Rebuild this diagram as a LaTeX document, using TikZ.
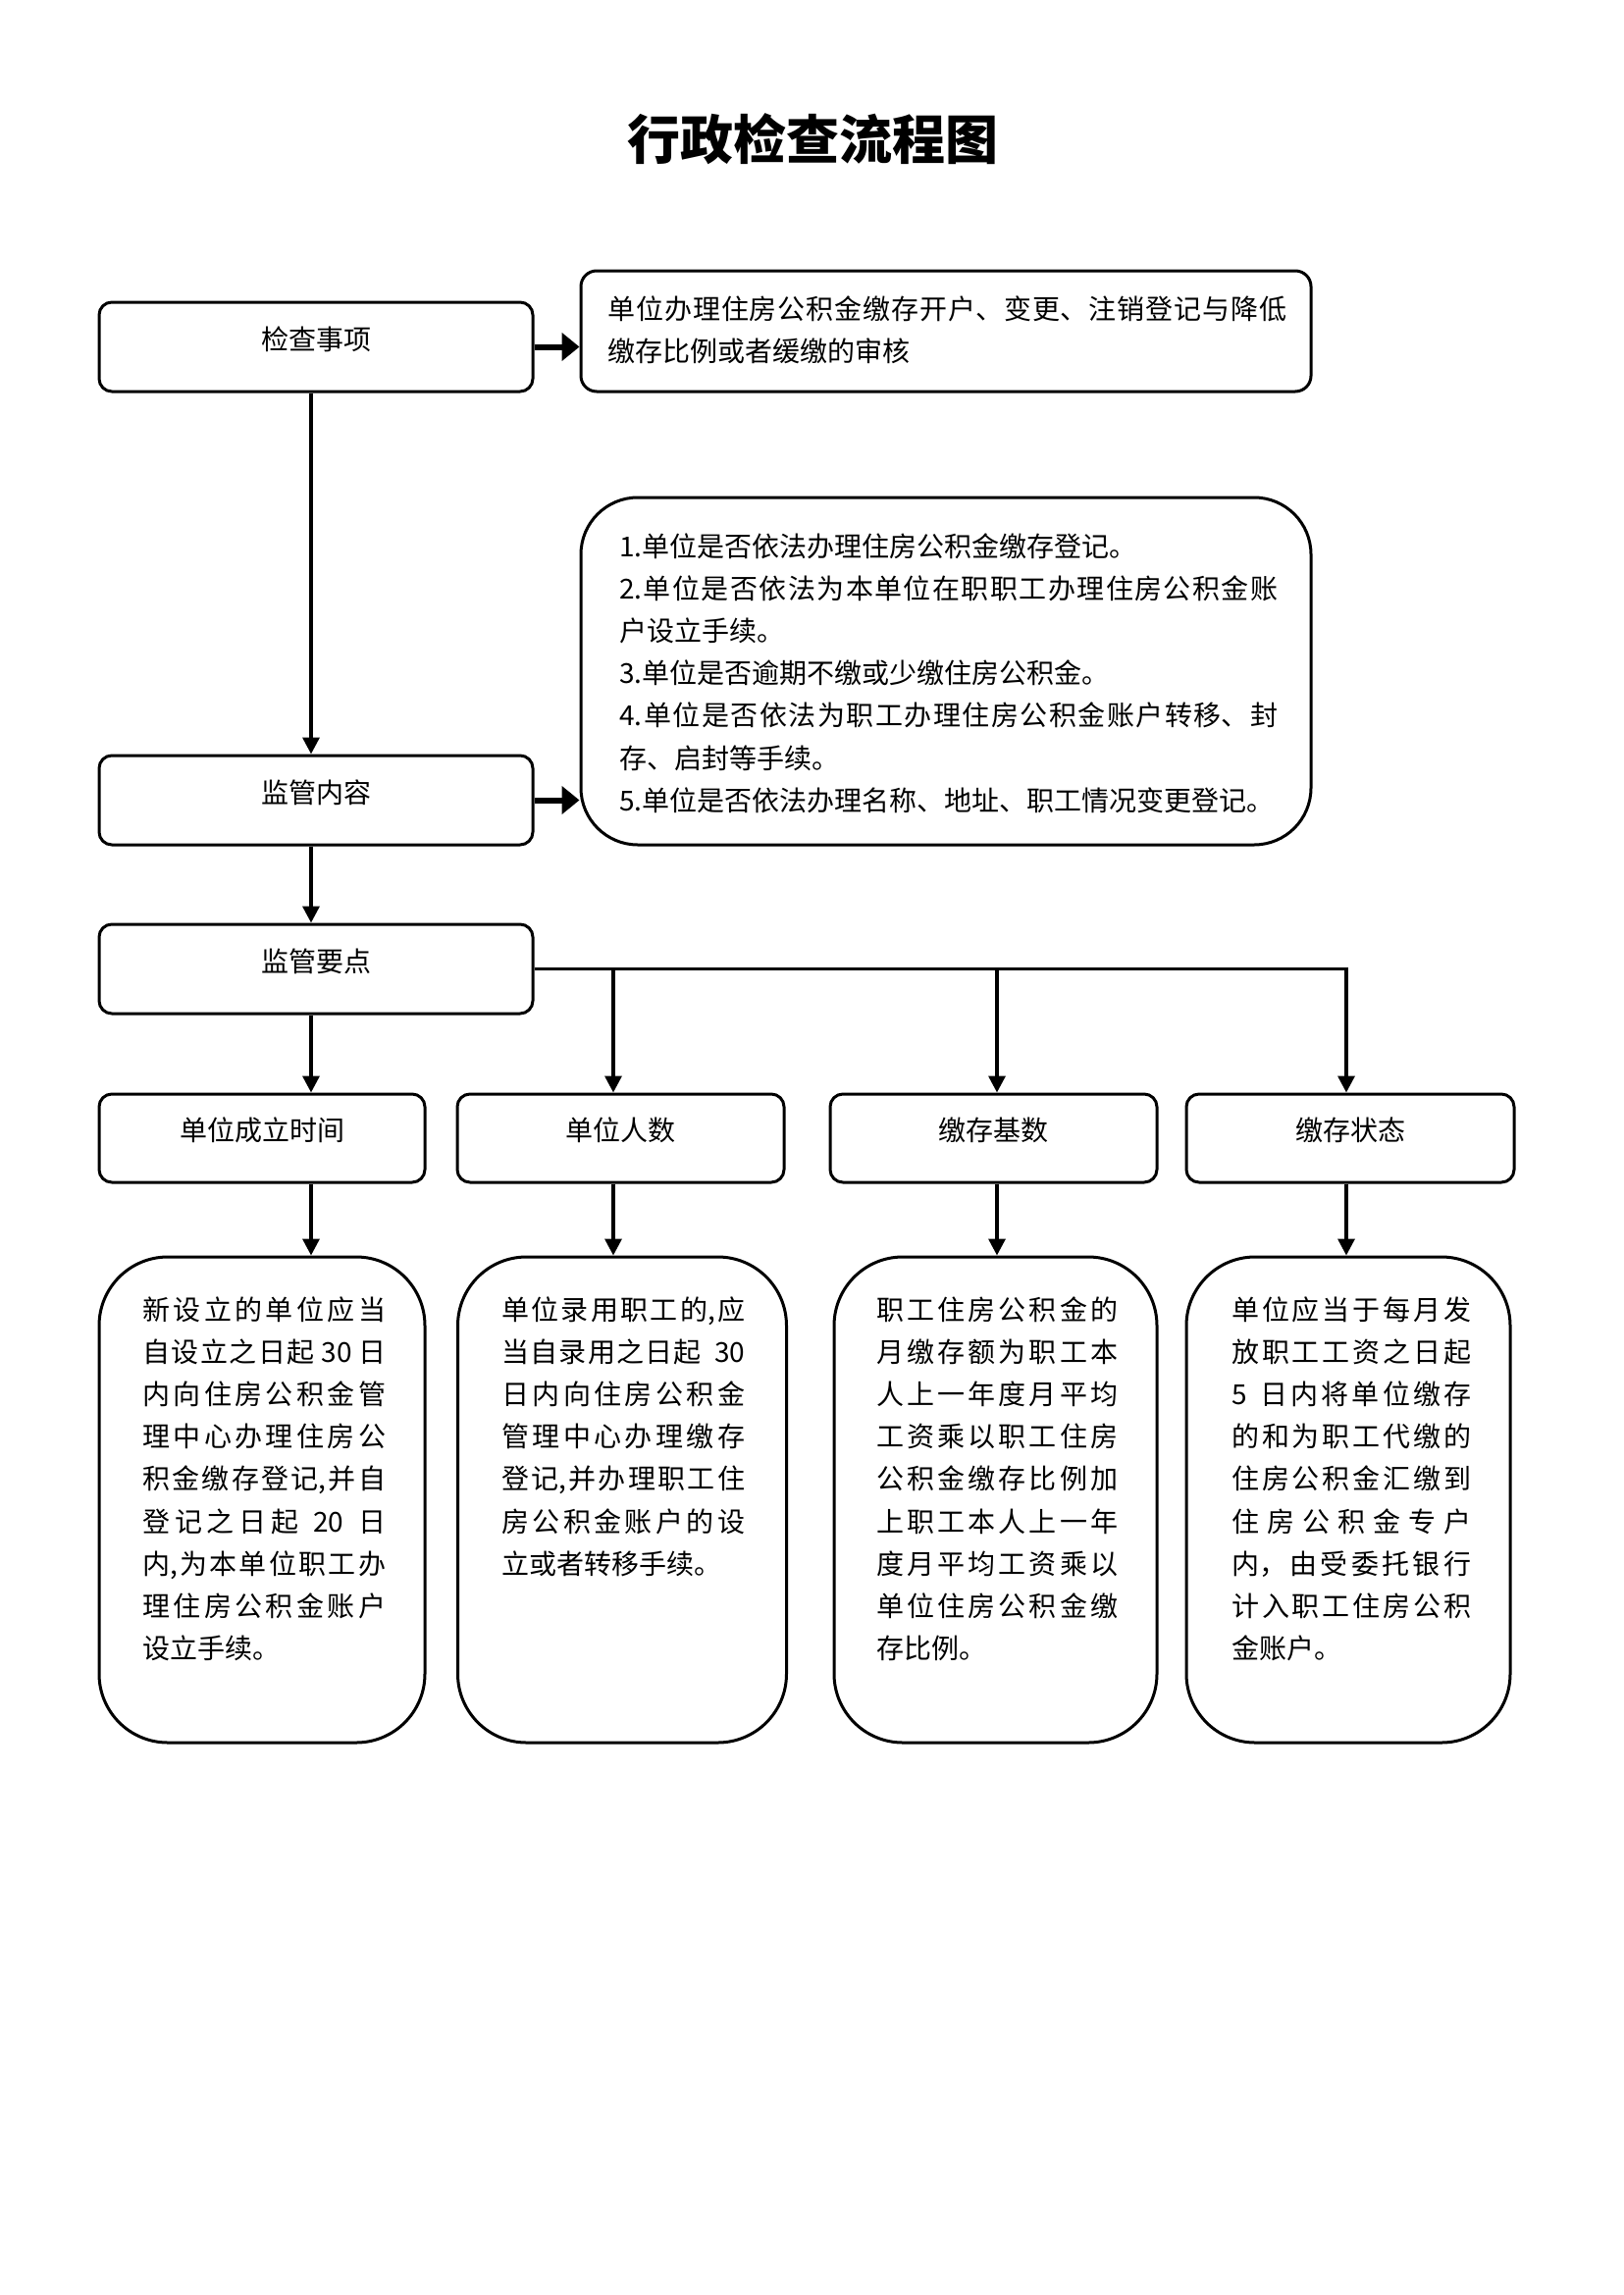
\documentclass[tikz,border=0pt]{standalone}
\usepackage{fontspec}
\setmainfont{Noto Sans CJK SC}
\usetikzlibrary{arrows.meta,calc}
\XeTeXlinebreaklocale "zh"
\XeTeXlinebreakskip=0pt plus 14pt
\newcommand\bodyfont{\fontsize{28}{43.2}\selectfont}
\newcommand\titlefont{\fontsize{54}{60}\selectfont\bfseries}
\begin{document}
\begin{tikzpicture}[x=1pt,y=-1pt,
  sbox/.style={draw, line width=3pt, rounded corners=13pt, inner sep=0pt},
  lbl/.style={font=\bodyfont, inner sep=0pt},
  txt/.style={anchor=base west, inner sep=0pt, font=\bodyfont},
  conn/.style={line width=3.5pt, -{Triangle[length=17pt,width=17pt]}},
  harrow/.style={line width=6pt, -{Triangle[length=18pt,width=28pt]}}]
\useasboundingbox[fill=white] (0,0) rectangle (1654,2339);

% title
\node[inner sep=0pt, font=\titlefont] (title) at (828,142) {行政检查流程图};

% boxes
\node[sbox, minimum width=442pt, minimum height=91pt] (A) at (322,353.5) {};
\node[sbox, rounded corners=16pt, minimum width=744pt, minimum height=123pt] (B) at (964,337.5) {};
\node[sbox, minimum width=442pt, minimum height=91pt] (C) at (322,815.5) {};
\node[sbox, rounded corners=58pt, minimum width=744pt, minimum height=354pt] (D) at (964,684) {};
\node[sbox, minimum width=442pt, minimum height=91pt] (E) at (322,987.5) {};

\node[sbox, minimum width=332pt, minimum height=90pt] (R1) at (267,1160) {};
\node[sbox, minimum width=333pt, minimum height=90pt] (R2) at (632.5,1160) {};
\node[sbox, minimum width=333pt, minimum height=90pt] (R3) at (1012.5,1160) {};
\node[sbox, minimum width=334pt, minimum height=90pt] (R4) at (1376,1160) {};

\node[sbox, rounded corners=70pt, minimum width=332pt, minimum height=495pt] (T1) at (267,1528.5) {};
\node[sbox, rounded corners=70pt, minimum width=335pt, minimum height=495pt] (T2) at (634,1528.5) {};
\node[sbox, rounded corners=70pt, minimum width=329pt, minimum height=495pt] (T3) at (1014.5,1528.5) {};
\node[sbox, rounded corners=70pt, minimum width=330pt, minimum height=495pt] (T4) at (1374,1528.5) {};

% labels
\node[lbl] (Al) at ($(A.center)+(0,-8)$) {检查事项};
\node[lbl] (Cl) at ($(C.center)+(0,-8)$) {监管内容};
\node[lbl] (El) at ($(E.center)+(0,-8)$) {监管要点};
\node[lbl] (R1l) at ($(R1.center)+(0,-8)$) {单位成立时间};
\node[lbl] (R2l) at ($(R2.center)+(0,-8)$) {单位人数};
\node[lbl] (R3l) at ($(R3.center)+(0,-8)$) {缴存基数};
\node[lbl] (R4l) at ($(R4.center)+(0,-8)$) {缴存状态};

% texts
\node[txt] (Bt) at (619,325) {\parbox[t]{692pt}{单位办理住房公积金缴存开户、变更、注销登记与降低\linebreak 缴存比例或者缓缴的审核}};
\node[txt] (Dt) at (631,567) {\parbox[t]{671pt}{1.单位是否依法办理住房公积金缴存登记。\\
2.单位是否依法为本单位在职职工办理住房公积金账\linebreak 户设立手续。\\
3.单位是否逾期不缴或少缴住房公积金。\\
4.单位是否依法为职工办理住房公积金账户转移、封\linebreak 存、启封等手续。\\
5.单位是否依法办理名称、地址、职工情况变更登记。}};

\node[txt] (T1t) at (145,1345) {\parbox[t]{248pt}{新设立的单位应当\linebreak 自设立之日起 30 日\linebreak 内向住房公积金管\linebreak 理中心办理住房公\linebreak 积金缴存登记,并自\linebreak 登记之日起\ \ 20\ \ 日\linebreak 内,为本单位职工办\linebreak 理住房公积金账户\linebreak 设立手续。}};
\node[txt] (T2t) at (511,1345) {\parbox[t]{248pt}{单位录用职工的,应\linebreak 当自录用之日起\ \ 30\linebreak 日内向住房公积金\linebreak 管理中心办理缴存\linebreak 登记,并办理职工住\linebreak 房公积金账户的设\linebreak 立或者转移手续。}};
\node[txt] (T3t) at (893,1345) {\parbox[t]{246pt}{职工住房公积金的\linebreak 月缴存额为职工本\linebreak 人上一年度月平均\linebreak 工资乘以职工住房\linebreak 公积金缴存比例加\linebreak 上职工本人上一年\linebreak 度月平均工资乘以\linebreak 单位住房公积金缴\linebreak 存比例。}};
\node[txt] (T4t) at (1255,1345) {\parbox[t]{244pt}{单位应当于每月发\linebreak 放职工工资之日起\linebreak 5\ \ 日内将单位缴存\linebreak 的和为职工代缴的\linebreak 住房公积金汇缴到\linebreak 住房公积金专户\linebreak 内，由受委托银行\linebreak 计入职工住房公积\linebreak 金账户。}};

% connector columns
\coordinate (xa) at (317,0);
\coordinate (xb) at (625,0);
\coordinate (xc) at (1016,0);
\coordinate (xd) at (1372,0);

\draw[harrow] (A.east) -- (A.east -| B.west);
\draw[harrow] (C.east) -- (C.east -| D.west);
\draw[conn] (A.south -| xa) -- (C.north -| xa);
\draw[conn] (C.south -| xa) -- (E.north -| xa);
\draw[conn] (E.south -| xa) -- (R1.north -| xa);
\draw[conn] (E.east) -| (R4.north -| xd);
\draw[conn] (E.east -| xb) -- (R2.north -| xb);
\draw[conn] (E.east -| xc) -- (R3.north -| xc);
\draw[conn] (R1.south -| xa) -- (T1.north -| xa);
\draw[conn] (R2.south -| xb) -- (T2.north -| xb);
\draw[conn] (R3.south -| xc) -- (T3.north -| xc);
\draw[conn] (R4.south -| xd) -- (T4.north -| xd);
\end{tikzpicture}
\end{document}
